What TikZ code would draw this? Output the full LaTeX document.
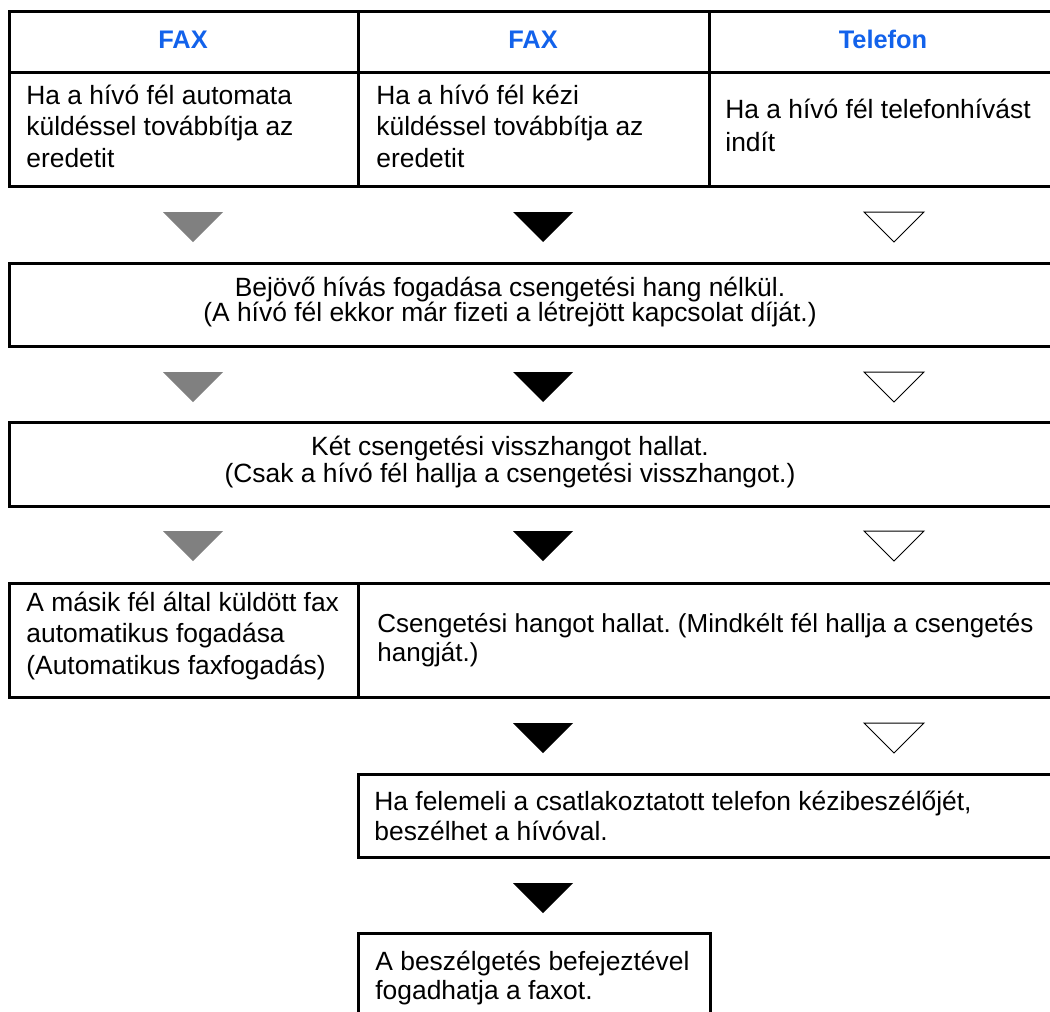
\documentclass[tikz,border=0pt]{standalone}
\usepackage{fontspec}
\setmainfont{Liberation Sans}
\usetikzlibrary{fit}
\frenchspacing
\definecolor{faxblue}{RGB}{18,98,235}
\definecolor{trigrey}{RGB}{128,128,128}
\newcommand{\txtlines}[3][]{\vtop{\baselineskip=#2\lineskiplimit=-\maxdimen\let\\\cr
  \halign{#1##\hfil\cr#3\crcr}}}
\newcommand{\dtri}[3]{\path[#3] (#1-30,#2) -- (#1+30,#2) -- (#1,#2+30) -- cycle;}
\tikzset{
  box/.style={draw, line width=1.5pt, inner sep=0pt},
  hdr/.style={font=\fontsize{12.7}{15}\selectfont\bfseries, text=faxblue, inner sep=0pt, anchor=base},
  txt/.style={font=\fontsize{13.2}{16}\selectfont, inner sep=0pt, anchor=base west},
  ctxt/.style={txt, anchor=base},
  trigry/.style={fill=trigrey},
  triblk/.style={fill=black},
  triwht/.style={draw=black, line width=0.5pt, fill=white},
}
\begin{document}
\begin{tikzpicture}[x=0.5pt,y=-0.5pt]
\useasboundingbox (0,0) rectangle (1050,1012);
% table head
\node[box, fit={(9,11) (358,72)}] (hfax1) {};
\node[box, fit={(358,11) (709,72)}] (hfax2) {};
\node[box, fit={(709,11) (1060,72)}] (htel) {};
\node[box, fit={(9,72) (358,186)}] (cauto) {};
\node[box, fit={(358,72) (709,186)}] (ckezi) {};
\node[box, fit={(709,72) (1060,186)}] (ctel) {};
\node[hdr] (lfax1) at (183,48) {FAX};
\node[hdr] (lfax2) at (533,48) {FAX};
\node[hdr] (ltel) at (883,48) {Telefon};
\node[txt] (tauto) at (26,104) {\txtlines{16pt}{Ha a hívó fél automata\\küldéssel továbbítja az\\eredetit}};
\node[txt] (tkezi) at (376,104) {\txtlines{16pt}{Ha a hívó fél kézi\\küldéssel továbbítja az\\eredetit}};
\node[txt] (ttel) at (725,118) {\txtlines{17pt}{Ha a hívó fél telefonhívást\\indít}};
% steps
\node[box, fit={(9,263) (1060,346)}] (bejovo) {};
\node[box, fit={(9,422) (1060,506)}] (ketcs) {};
\node[box, fit={(9,583) (358,697)}] (autofog) {};
\node[box, fit={(358,583) (1060,697)}] (csenget) {};
\node[box, fit={(358,774) (1060,857)}] (felemel) {};
\node[box, fit={(358,933) (710,1030)}] (befejez) {};
\node[ctxt] (tbejovo) at (510,296) {\txtlines[\hfil]{12.5pt}{Bejövő hívás fogadása csengetési hang nélkül.\\(A hívó fél ekkor már fizeti a létrejött kapcsolat díját.)}};
\node[ctxt] (tketcs) at (510,455) {\txtlines[\hfil]{13.5pt}{Két csengetési visszhangot hallat.\\(Csak a hívó fél hallja a csengetési visszhangot.)}};
\node[txt] (tautofog) at (26,611) {\txtlines{15.75pt}{A másik fél által küldött fax\\automatikus fogadása\\(Automatikus faxfogadás)}};
\node[txt, font=\fontsize{13}{16}\selectfont] (tcsenget) at (377,632) {\txtlines{14.5pt}{Csengetési hangot hallat. (Mindkélt fél hallja a csengetés\\hangját.)}};
\node[txt] (tfelemel) at (374,810) {\txtlines{15pt}{Ha felemeli a csatlakoztatott telefon kézibeszélőjét,\\beszélhet a hívóval.}};
\node[txt] (tbefejez) at (375,970) {\txtlines{14.5pt}{A beszélgetés befejeztével\\fogadhatja a faxot.}};
% triangles
\foreach \y in {212,372,531}{
  \dtri{193}{\y}{trigry}
  \dtri{543}{\y}{triblk}
  \dtri{894}{\y}{triwht}
}
\dtri{543}{723}{triblk}
\dtri{894}{723}{triwht}
\dtri{543}{883}{triblk}
\end{tikzpicture}
\end{document}
